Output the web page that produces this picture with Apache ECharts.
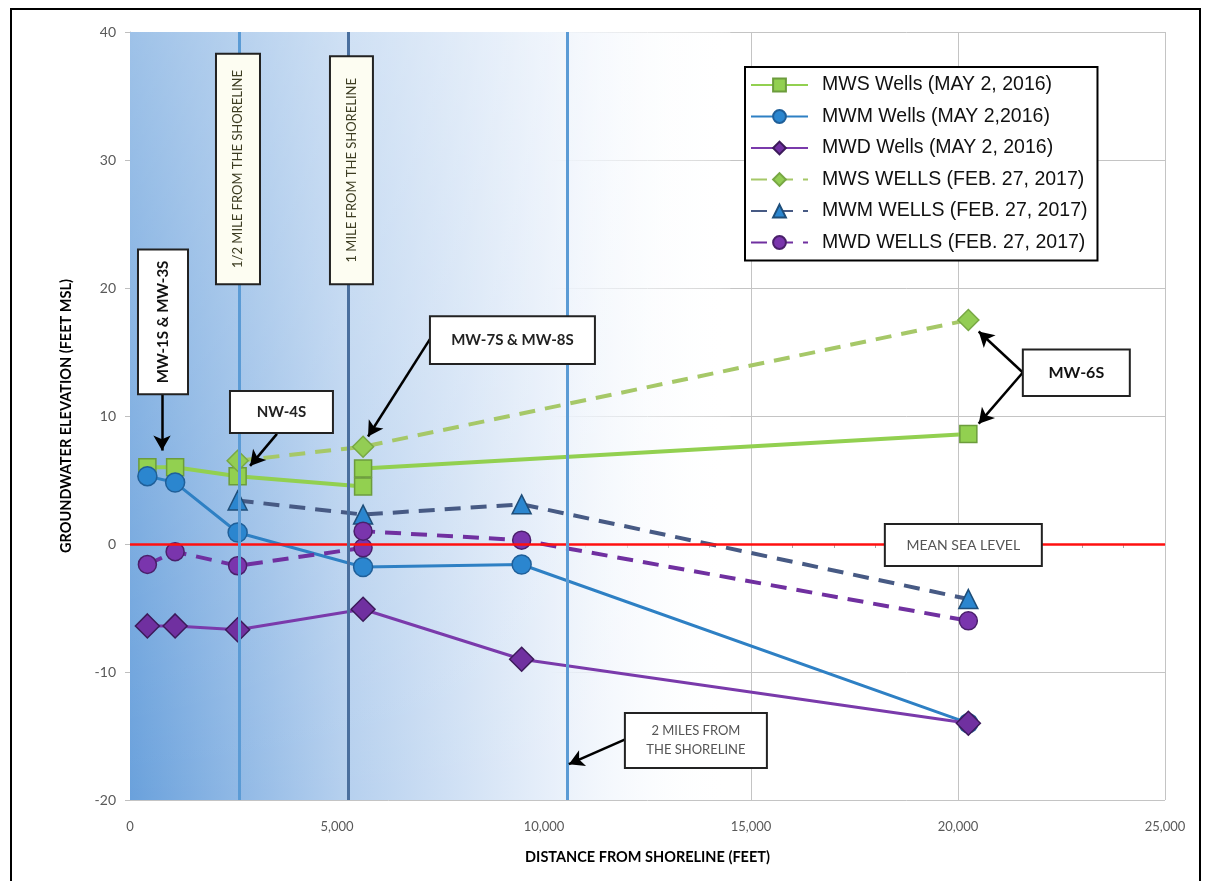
<!DOCTYPE html>
<html><head><meta charset="utf-8">
<script src="https://cdn.jsdelivr.net/npm/echarts@6/dist/echarts.min.js"></script>
<style>html,body{margin:0;padding:0;background:#fff}#c{width:1207px;height:881px}</style>
</head><body><div id="c"></div>
<script>
// ---------- DATA ----------
const seriesNames = [
  'MWS Wells (MAY 2, 2016)',
  'MWM Wells (MAY 2,2016)',
  'MWD Wells (MAY 2, 2016)',
  'MWS WELLS (FEB. 27, 2017)',
  'MWM WELLS (FEB. 27, 2017)',
  'MWD WELLS (FEB. 27, 2017)'
];
const mwsMayDist = [420, 1090, 2600, 5630, 5630, 20250];
const mwsMayElev = [6.0, 6.0, 5.3, 4.5, 5.9, 8.6];
const mwmMayDist = [420, 1090, 2600, 5630, 9460, 20250];
const mwmMayElev = [5.3, 4.8, 0.9, -1.8, -1.6, -14.0];
const mwdMayDist = [420, 1090, 2600, 5630, 9460, 20250];
const mwdMayElev = [-6.4, -6.4, -6.7, -5.1, -9.0, -14.0];
const mwsFebDist = [2600, 5630, 20250];
const mwsFebElev = [6.5, 7.6, 17.5];
const mwmFebDist = [2600, 5630, 9460, 20250];
const mwmFebElev = [3.4, 2.3, 3.1, -4.3];
const mwdFebDist = [420, 1090, 2600, 5630, 5630, 9460, 20250];
const mwdFebElev = [-1.6, -0.6, -1.7, -0.3, 1.0, 0.3, -6.0];

const xMin = 0, xMax = 25000, xStep = 5000;
const yMin = -20, yMax = 40, yStep = 10;
const seaLevel = 0;
const shorelineMarks = [2640, 5280, 10560]; // 1/2 mile, 1 mile, 2 miles

// ---------- CHART ----------
const chart = echarts.init(document.getElementById('c'), null, {renderer: 'canvas'});
const zip = (a, b) => a.map((v, i) => [v, b[i]]);
const fmt = v => String(v).replace(/\B(?=(\d{3})+(?!\d))/g, ',');

function lineSeries(name, xs, ys, o) {
  return {
    name, type: 'line', data: zip(xs, ys), symbol: o.symbol, symbolSize: o.size,
    itemStyle: {color: o.fill, borderColor: o.border, borderWidth: 1.5},
    lineStyle: {color: o.line, width: o.width, type: o.dash ? [16, 10] : 'solid'},
    z: o.z || 3, animation: false
  };
}

const bgH = new echarts.graphic.LinearGradient(0, 0, 1, 0, [
  {offset: 0, color: '#6aa1dc'}, {offset: 0.35, color: '#b4cfee'},
  {offset: 0.7, color: '#e7effa'}, {offset: 1, color: 'rgba(255,255,255,0)'}]);
const bgV = new echarts.graphic.LinearGradient(0, 0, 0, 1, [
  {offset: 0, color: 'rgba(255,255,255,0.35)'}, {offset: 1, color: 'rgba(255,255,255,0)'}]);

const option = {
  backgroundColor: '#fff',
  animation: false,
  grid: {left: 130, right: 42, top: 32, bottom: 81},
  xAxis: {
    type: 'value', min: xMin, max: xMax, interval: xStep,
    name: 'DISTANCE FROM SHORELINE (FEET)', nameLocation: 'middle', nameGap: 50,
    nameTextStyle: {fontFamily: 'Lato', fontWeight: 'bold', fontSize: 14.5, color: '#000'},
    axisLine: {show: true, lineStyle: {color: '#a6a6a6'}},
    axisTick: {show: false},
    minorTick: {show: true, splitNumber: 5, length: 4, lineStyle: {color: '#a6a6a6'}},
    axisLabel: {formatter: fmt, color: '#595959', fontFamily: 'Lato', fontSize: 13, margin: 20},
    splitLine: {show: true, lineStyle: {color: '#c4c4c4'}}
  },
  yAxis: {
    type: 'value', min: yMin, max: yMax, interval: yStep,
    name: 'GROUNDWATER ELEVATION (FEET MSL)', nameLocation: 'middle', nameGap: 56,
    nameTextStyle: {fontFamily: 'Lato', fontWeight: 'bold', fontSize: 14.5, color: '#000'},
    axisLine: {show: true, lineStyle: {color: '#bfbfbf'}},
    axisTick: {show: true, length: 5, lineStyle: {color: '#bfbfbf'}},
    axisLabel: {color: '#595959', fontFamily: 'Lato', fontSize: 14, margin: 14},
    splitLine: {show: true, lineStyle: {color: '#c4c4c4'}}
  },
  legend: {
    orient: 'vertical', left: 745, top: 67, data: seriesNames,
    backgroundColor: '#fff', borderColor: '#000', borderWidth: 2, borderRadius: 0,
    padding: [8, 10, 8, 5], itemWidth: 57, itemHeight: 16, itemGap: 11.5,
    textStyle: {fontFamily: 'Liberation Sans', fontSize: 19.5, color: '#111', lineHeight: 20, padding: [0, 0, 0, 9]},
    z: 20
  },
  series: [
    {
      name: 'bg', type: 'line', data: [], silent: true, z: 0,
      markArea: {silent: true, data: [
        [{xAxis: 0, yAxis: yMin, itemStyle: {color: bgH}}, {xAxis: 14500, yAxis: yMax}],
        [{xAxis: 0, yAxis: yMin, itemStyle: {color: bgV}}, {xAxis: 14500, yAxis: yMax}]
      ]}
    },
    {
      name: 'refs', type: 'line', data: [], silent: true, z: 1,
      markLine: {silent: true, symbol: 'none', animation: false, label: {show: false},
        data: [
          {yAxis: seaLevel, lineStyle: {color: '#ff1010', width: 2.5, type: 'solid'}},
          {xAxis: shorelineMarks[0], lineStyle: {color: '#5b9bd5', width: 3, type: 'solid'}},
          {xAxis: shorelineMarks[1], lineStyle: {color: '#4a6f9e', width: 3, type: 'solid'}},
          {xAxis: shorelineMarks[2], lineStyle: {color: '#5b9bd5', width: 3, type: 'solid'}}
        ]}
    },
    lineSeries(seriesNames[0], mwsMayDist, mwsMayElev, {symbol: 'rect', size: 17, fill: '#92d050', border: '#6c9c3c', line: '#92d050', width: 4}),
    lineSeries(seriesNames[1], mwmMayDist, mwmMayElev, {symbol: 'circle', size: 19, fill: '#2b86cf', border: '#1f5f99', line: '#2e80c4', width: 3}),
    lineSeries(seriesNames[2], mwdMayDist, mwdMayElev, {symbol: 'diamond', size: 24, fill: '#7030a0', border: '#3c1a5a', line: '#7a3aab', width: 3}),
    lineSeries(seriesNames[3], mwsFebDist, mwsFebElev, {symbol: 'diamond', size: 21, fill: '#93cd54', border: '#78a844', line: '#a6c868', width: 4, dash: true}),
    lineSeries(seriesNames[4], mwmFebDist, mwmFebElev, {symbol: 'triangle', size: 19, fill: '#2b86cf', border: '#1f4e79', line: '#475a84', width: 4, dash: true}),
    lineSeries(seriesNames[5], mwdFebDist, mwdFebElev, {symbol: 'circle', size: 18, fill: '#7a35ad', border: '#4a1f6b', line: '#7030a0', width: 4, dash: true}),
    {
      name: 'arrows', type: 'line', data: [], silent: true, z: 6,
      markLine: {silent: true, animation: false, symbol: ['none', 'arrow'], symbolSize: [13, 15],
        label: {show: false}, lineStyle: {color: '#000', width: 2.5, type: 'solid'},
        data: [
          [{coord: [773, 11.7]}, {coord: [773, 7.3]}],
          [{coord: [3550, 8.6]}, {coord: [2900, 6.1]}],
          [{coord: [7245, 16.0]}, {coord: [5750, 8.4]}],
          [{coord: [21566, 13.4]}, {coord: [20500, 16.6]}],
          [{coord: [21566, 13.4]}, {coord: [20500, 9.4]}],
          [{coord: [12003, -15.2]}, {coord: [10600, -17.2]}]
        ]}
    }
  ]
};
chart.setOption(option);

// ---------- ANNOTATION BOXES (anchored in data coordinates) ----------
const notes = [
  {x1: 193, y1: 23.0, x2: 1401, y2: 11.7, text: 'MW-1S & MW-3S', rot: true, font: 'bold 15px Lato', color: '#111'},
  {x1: 2077, y1: 38.3, x2: 3140, y2: 20.3, text: '1/2 MILE FROM THE SHORELINE', rot: true, font: '13px Lato', color: '#3d3d22', fill: '#fdfdf2'},
  {x1: 4830, y1: 38.1, x2: 5868, y2: 20.3, text: '1 MILE FROM THE SHORELINE', rot: true, font: '13px Lato', color: '#3d3d22', fill: '#fdfdf2'},
  {x1: 2415, y1: 11.95, x2: 4902, y2: 8.67, text: 'NW-4S', font: 'bold 15px Lato', color: '#222'},
  {x1: 7245, y1: 17.8, x2: 11230, y2: 14.06, text: 'MW-7S & MW-8S', font: 'bold 15px Lato', color: '#222'},
  {x1: 21566, y1: 15.2, x2: 24150, y2: 11.56, text: 'MW-6S', font: 'bold 16px Lato', color: '#111'},
  {x1: 18233, y1: 1.56, x2: 22025, y2: -1.72, text: 'MEAN SEA LEVEL', font: '14px Lato', color: '#555'},
  {x1: 11954, y1: -13.2, x2: 15384, y2: -17.5, text: '2 MILES FROM\nTHE SHORELINE', font: '13px Lato', color: '#555', lh: 19}
];
const gfx = [];
notes.forEach(n => {
  const p1 = chart.convertToPixel({gridIndex: 0}, [n.x1, n.y1]);
  const p2 = chart.convertToPixel({gridIndex: 0}, [n.x2, n.y2]);
  const x = Math.min(p1[0], p2[0]), y = Math.min(p1[1], p2[1]);
  const w = Math.abs(p2[0] - p1[0]), h = Math.abs(p2[1] - p1[1]);
  gfx.push({type: 'rect', shape: {x, y, width: w, height: h}, z: 50,
    style: {fill: n.fill || '#fff', stroke: '#222', lineWidth: 2}});
  gfx.push({type: 'text', x: x + w / 2, y: y + h / 2, rotation: n.rot ? Math.PI / 2 : 0, z: 51,
    style: {text: n.text, font: n.font, fill: n.color, align: 'center', verticalAlign: 'middle', lineHeight: n.lh || 16}});
});
gfx.push({type: 'rect', shape: {x: 11, y: 9, width: 1189, height: 880}, z: 60,
  style: {fill: 'none', stroke: '#000', lineWidth: 2}});
chart.setOption({graphic: gfx});
</script></body></html>
